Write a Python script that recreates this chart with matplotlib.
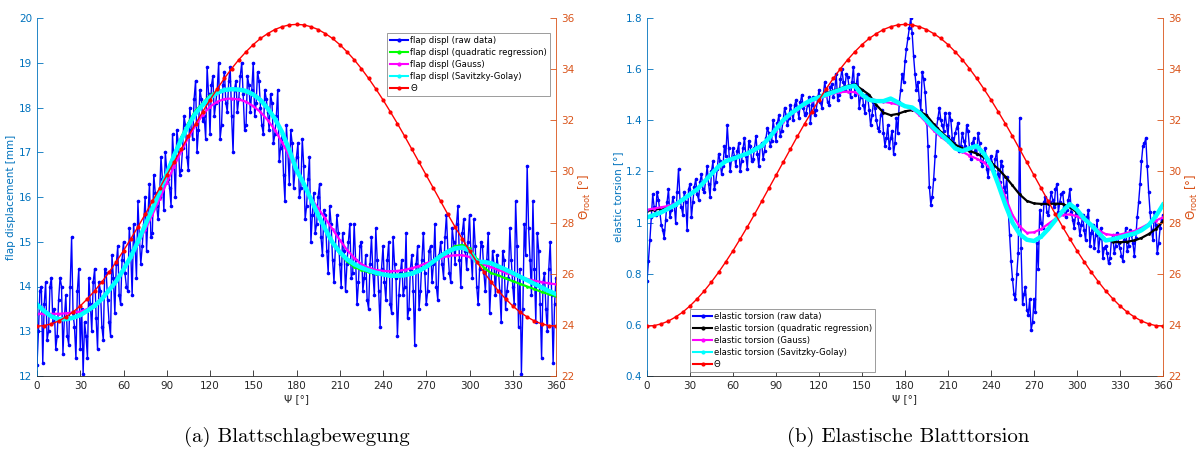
import numpy as np
import matplotlib.pyplot as plt
from matplotlib.ticker import FuncFormatter, MultipleLocator

psi_raw = np.arange(0, 361, 1)
psi_fit = np.arange(0, 361, 5)

# Theta root (right axis), every 5 deg
theta = [23.95, 23.97, 24.04, 24.15, 24.31, 24.50, 24.74, 25.02, 25.33, 25.68,
         26.06, 26.47, 26.90, 27.36, 27.83, 28.32, 28.83, 29.34, 29.85, 30.36,
         30.87, 31.38, 31.87, 32.34, 32.80, 33.23, 33.64, 34.02, 34.37, 34.68,
         34.96, 35.20, 35.39, 35.55, 35.66, 35.73, 35.75, 35.73, 35.66, 35.55,
         35.39, 35.20, 34.96, 34.68, 34.37, 34.02, 33.64, 33.23, 32.80, 32.34,
         31.87, 31.38, 30.87, 30.36, 29.85, 29.34, 28.83, 28.32, 27.83, 27.36,
         26.90, 26.47, 26.06, 25.68, 25.33, 25.02, 24.74, 24.50, 24.31, 24.15,
         24.04, 23.97, 23.95]

# (a) flap displacement [mm], raw at even / odd degrees
flap_raw_even = [12.25, 13.9, 12.3, 14.1, 13.0, 14.2, 13.5, 12.9, 14.2, 12.5,
                 13.8, 12.7, 15.1, 13.1, 13.9, 12.6, 12.05, 12.9, 14.2, 13.0,
                 14.4, 12.6, 13.9, 12.8, 14.3, 13.2, 14.7, 13.4, 14.9, 13.6,
                 15.0, 14.0, 15.3, 13.8, 14.9, 15.9, 14.5, 15.4, 14.8, 16.3,
                 15.2, 16.1, 15.5, 16.9, 15.7, 16.6, 16.2, 17.4, 16.0, 17.2,
                 16.6, 17.8, 16.9, 18.0, 17.3, 18.6, 17.5, 18.2, 17.8, 18.9,
                 17.4, 18.7, 18.1, 19.0, 17.6, 18.8, 17.9, 18.9, 17.0, 18.6,
                 18.2, 19.0, 17.5, 18.7, 17.9, 19.0, 18.1, 18.6, 17.6, 18.4,
                 17.9, 18.3, 17.2, 17.8, 16.8, 17.4, 15.9, 17.0, 17.5, 16.2,
                 16.9, 16.0, 17.3, 15.5, 16.4, 15.0, 16.1, 15.4, 16.3, 14.7,
                 15.6, 14.3, 15.4, 14.1, 15.6, 14.5, 15.2, 13.9, 15.0, 14.2,
                 15.4, 13.6, 14.9, 13.9, 14.7, 13.5, 15.1, 13.8, 14.6, 13.1,
                 14.9, 13.7, 15.0, 13.4, 14.5, 12.9, 14.3, 13.8, 15.2, 13.5,
                 14.7, 12.7, 14.9, 13.9, 15.2, 13.6, 14.8, 14.1, 15.4, 13.7,
                 15.0, 14.2, 15.6, 14.3, 15.3, 14.5, 15.8, 14.0, 15.5, 14.4,
                 15.6, 14.2, 14.9, 13.6, 15.0, 14.3, 14.6, 13.4, 14.8, 13.8,
                 14.4, 13.2, 14.6, 13.9, 15.3, 14.0, 15.9, 13.1, 12.05, 15.4,
                 16.7, 14.6, 15.9, 13.2, 14.8, 12.4, 14.3, 13.0, 15.0, 12.3,
                 14.2]
flap_raw_odd = [13.0, 14.0, 13.6, 12.8, 14.0, 13.2, 12.6, 13.7, 14.0, 13.3,
                12.9, 14.0, 13.4, 12.4, 14.4, 13.5, 13.2, 12.4, 13.6, 14.1,
                13.3, 14.1, 13.1, 14.4, 13.7, 12.9, 14.2, 14.5, 13.8, 14.6,
                14.3, 13.9, 14.8, 15.4, 14.2, 15.1, 14.9, 16.0, 15.6, 15.1,
                16.5, 15.8, 16.0, 16.4, 17.0, 16.4, 15.8, 16.8, 17.5, 16.5,
                17.1, 17.6, 16.6, 17.5, 18.2, 17.0, 18.4, 17.7, 17.3, 18.3,
                18.5, 17.8, 18.4, 17.3, 18.5, 18.1, 18.6, 17.8, 18.4, 17.9,
                18.7, 18.3, 17.6, 18.5, 18.4, 17.8, 18.8, 18.0, 17.4, 18.2,
                17.5, 18.1, 17.4, 18.4, 17.1, 16.5, 17.6, 16.3, 17.2, 16.6,
                17.2, 16.2, 16.7, 15.8, 16.9, 15.6, 15.2, 16.0, 15.1, 15.7,
                14.8, 15.8, 14.6, 14.9, 15.2, 14.0, 14.8, 14.5, 15.4, 14.3,
                14.6, 14.1, 15.0, 14.2, 13.7, 14.5, 14.3, 15.3, 13.9, 14.4,
                14.1, 14.6, 13.6, 15.1, 14.2, 13.8, 14.6, 14.0, 13.3, 14.4,
                13.9, 14.5, 13.5, 14.6, 14.3, 13.9, 14.9, 14.5, 14.0, 14.7,
                14.5, 15.1, 14.8, 14.1, 15.0, 15.4, 14.6, 15.2, 14.8, 15.0,
                14.7, 15.5, 14.0, 14.4, 14.9, 13.9, 15.2, 14.1, 14.5, 14.7,
                13.9, 14.8, 13.5, 14.2, 14.6, 13.6, 14.9, 14.4, 13.5, 14.7,
                15.3, 13.8, 14.4, 15.2, 13.6, 14.1, 13.5, 14.4, 13.8, 13.6]
flap_quad = [13.58, 13.44, 13.33, 13.27, 13.27, 13.30, 13.36, 13.46, 13.57, 13.72,
             13.92, 14.12, 14.38, 14.66, 15.00, 15.37, 15.74, 16.14, 16.55, 16.96,
             17.33, 17.66, 17.93, 18.10, 18.27, 18.36, 18.40, 18.41, 18.40, 18.35,
             18.28, 18.17, 17.98, 17.75, 17.45, 17.05, 16.60, 16.28, 15.93, 15.58,
             15.26, 14.96, 14.74, 14.56, 14.44, 14.37, 14.32, 14.29, 14.27, 14.26,
             14.26, 14.28, 14.31, 14.37, 14.46, 14.58, 14.70, 14.80, 14.90, 14.93,
             14.85, 14.62, 14.42, 14.30, 14.25, 14.18, 14.12, 14.06, 14.00, 13.94,
             13.88, 13.83, 13.78]
flap_gauss = [13.39, 13.39, 13.39, 13.39, 13.40, 13.42, 13.44, 13.50, 13.60, 13.75,
              13.94, 14.15, 14.40, 14.66, 14.95, 15.27, 15.60, 15.95, 16.32, 16.68,
              17.02, 17.33, 17.60, 17.84, 18.02, 18.13, 18.19, 18.20, 18.18, 18.13,
              18.03, 17.90, 17.72, 17.50, 17.22, 16.92, 16.58, 16.25, 15.98, 15.75,
              15.52, 15.28, 15.04, 14.82, 14.64, 14.50, 14.42, 14.37, 14.35, 14.34,
              14.35, 14.37, 14.41, 14.46, 14.52, 14.58, 14.64, 14.68, 14.70, 14.70,
              14.66, 14.58, 14.50, 14.43, 14.37, 14.31, 14.26, 14.21, 14.17, 14.13,
              14.10, 14.07, 14.05]
flap_sg = [13.60, 13.45, 13.33, 13.27, 13.27, 13.30, 13.36, 13.46, 13.57, 13.72,
           13.92, 14.12, 14.38, 14.66, 15.00, 15.37, 15.73, 16.12, 16.52, 16.92,
           17.28, 17.60, 17.87, 18.06, 18.22, 18.33, 18.39, 18.41, 18.40, 18.37,
           18.29, 18.17, 17.98, 17.75, 17.45, 17.05, 16.60, 16.30, 15.95, 15.60,
           15.28, 14.98, 14.77, 14.61, 14.50, 14.42, 14.36, 14.31, 14.27, 14.24,
           14.24, 14.25, 14.29, 14.35, 14.44, 14.56, 14.68, 14.78, 14.85, 14.87,
           14.80, 14.55, 14.55, 14.52, 14.45, 14.38, 14.30, 14.22, 14.14, 14.06,
           13.98, 13.90, 13.83]

# (b) elastic torsion [deg], raw at even / odd degrees
tors_raw_even = [0.77, 0.93, 1.11, 1.03, 1.09, 0.99, 0.94, 1.08, 1.02, 1.10,
                 1.00, 1.21, 1.06, 1.12, 0.97, 1.15, 1.08, 1.17, 1.09, 1.19,
                 1.12, 1.22, 1.10, 1.24, 1.16, 1.27, 1.19, 1.30, 1.38, 1.20,
                 1.29, 1.22, 1.31, 1.24, 1.33, 1.21, 1.30, 1.25, 1.34, 1.22,
                 1.31, 1.28, 1.37, 1.30, 1.40, 1.32, 1.42, 1.36, 1.45, 1.38,
                 1.46, 1.40, 1.48, 1.41, 1.50, 1.42, 1.46, 1.39, 1.49, 1.44,
                 1.52, 1.45, 1.55, 1.47, 1.53, 1.49, 1.58, 1.50, 1.60, 1.52,
                 1.57, 1.49, 1.61, 1.54, 1.45, 1.52, 1.43, 1.49, 1.38, 1.47,
                 1.40, 1.36, 1.44, 1.30, 1.38, 1.33, 1.27, 1.41, 1.47, 1.58,
                 1.63, 1.72, 1.80, 1.65, 1.52, 1.48, 1.59, 1.51, 1.30, 1.07,
                 1.17, 1.37, 1.45, 1.38, 1.43, 1.34, 1.40, 1.31, 1.37, 1.28,
                 1.35, 1.30, 1.36, 1.25, 1.33, 1.27, 1.31, 1.22, 1.29, 1.18,
                 1.26, 1.20, 1.28, 1.16, 1.22, 1.12, 1.05, 0.85, 0.72, 0.80,
                 1.41, 0.68, 0.75, 0.64, 0.58, 0.70, 0.92, 1.05, 0.98, 1.10,
                 1.03, 1.12, 1.06, 1.15, 1.08, 1.12, 1.02, 1.09, 1.04, 0.98,
                 1.07, 0.95, 1.03, 0.93, 1.05, 0.96, 0.90, 1.01, 0.94, 0.86,
                 0.91, 0.84, 0.93, 0.88, 0.96, 0.90, 0.85, 0.98, 0.91, 0.95,
                 0.87, 1.02, 1.15, 1.30, 1.33, 1.12, 0.97, 1.04, 0.88, 0.98,
                 1.03]
tors_raw_odd = [0.85, 1.02, 1.06, 1.12, 1.04, 0.97, 1.01, 1.13, 1.05, 1.07,
                1.12, 1.09, 1.03, 1.08, 1.13, 1.02, 1.14, 1.11, 1.16, 1.13,
                1.17, 1.15, 1.20, 1.13, 1.21, 1.24, 1.22, 1.26, 1.29, 1.25,
                1.26, 1.28, 1.20, 1.29, 1.26, 1.32, 1.24, 1.29, 1.27, 1.30,
                1.25, 1.33, 1.35, 1.32, 1.36, 1.39, 1.34, 1.40, 1.42, 1.41,
                1.43, 1.46, 1.44, 1.47, 1.45, 1.43, 1.49, 1.46, 1.42, 1.48,
                1.47, 1.50, 1.51, 1.46, 1.54, 1.52, 1.48, 1.56, 1.55, 1.58,
                1.53, 1.55, 1.50, 1.58, 1.49, 1.46, 1.50, 1.44, 1.42, 1.45,
                1.37, 1.42, 1.35, 1.33, 1.29, 1.36, 1.31, 1.35, 1.52, 1.55,
                1.68, 1.76, 1.74, 1.58, 1.55, 1.44, 1.56, 1.42, 1.14, 1.10,
                1.26, 1.41, 1.40, 1.36, 1.38, 1.43, 1.33, 1.35, 1.39, 1.30,
                1.32, 1.38, 1.29, 1.31, 1.28, 1.35, 1.24, 1.26, 1.21, 1.24,
                1.23, 1.25, 1.19, 1.24, 1.14, 1.18, 0.95, 0.78, 0.70, 0.88,
                0.90, 0.72, 0.66, 0.70, 0.61, 0.65, 0.82, 1.00, 1.08, 1.04,
                1.08, 1.09, 1.13, 1.04, 1.11, 1.06, 1.05, 1.13, 1.01, 1.03,
                1.00, 0.99, 0.97, 1.02, 0.91, 0.99, 0.95, 0.89, 0.98, 0.90,
                0.88, 0.86, 0.95, 0.91, 0.92, 0.87, 0.93, 0.89, 0.97, 0.92,
                0.94, 1.08, 1.24, 1.31, 1.22, 1.04, 0.93, 0.99, 0.92, 1.01]
tors_quad = [1.045, 1.05, 1.055, 1.06, 1.07, 1.09, 1.11, 1.13, 1.16, 1.19,
             1.22, 1.24, 1.25, 1.26, 1.27, 1.285, 1.30, 1.33, 1.365, 1.40,
             1.425, 1.445, 1.465, 1.48, 1.495, 1.505, 1.515, 1.525, 1.535, 1.54,
             1.52, 1.50, 1.46, 1.43, 1.42, 1.425, 1.435, 1.44, 1.435, 1.42,
             1.385, 1.355, 1.33, 1.305, 1.29, 1.28, 1.27, 1.255, 1.235, 1.21,
             1.18, 1.145, 1.11, 1.085, 1.075, 1.073, 1.073, 1.074, 1.073, 1.06,
             1.04, 1.02, 0.99, 0.955, 0.935, 0.925, 0.923, 0.925, 0.93, 0.94,
             0.955, 0.975, 1.005]
tors_gauss = [1.05, 1.055, 1.06, 1.065, 1.075, 1.09, 1.11, 1.13, 1.16, 1.19,
              1.22, 1.24, 1.25, 1.26, 1.27, 1.285, 1.30, 1.33, 1.36, 1.395,
              1.42, 1.44, 1.46, 1.475, 1.485, 1.495, 1.505, 1.51, 1.512, 1.51,
              1.495, 1.485, 1.478, 1.472, 1.468, 1.462, 1.455, 1.445, 1.42, 1.39,
              1.36, 1.335, 1.315, 1.295, 1.277, 1.262, 1.25, 1.235, 1.21, 1.17,
              1.10, 1.03, 0.985, 0.96, 0.962, 0.975, 0.995, 1.015, 1.03, 1.032,
              1.025, 1.01, 0.99, 0.97, 0.955, 0.951, 0.953, 0.96, 0.967, 0.98,
              0.995, 1.008, 1.02]
tors_sg = [1.02, 1.03, 1.04, 1.055, 1.07, 1.09, 1.11, 1.13, 1.16, 1.19,
           1.22, 1.24, 1.25, 1.26, 1.27, 1.285, 1.30, 1.33, 1.365, 1.40,
           1.425, 1.445, 1.465, 1.48, 1.49, 1.50, 1.51, 1.52, 1.53, 1.535,
           1.50, 1.48, 1.475, 1.475, 1.485, 1.47, 1.455, 1.45, 1.43, 1.40,
           1.37, 1.345, 1.32, 1.29, 1.28, 1.29, 1.30, 1.27, 1.225, 1.15,
           1.07, 1.00, 0.955, 0.933, 0.928, 0.945, 0.975, 1.01, 1.045, 1.072,
           1.05, 1.015, 0.99, 0.96, 0.93, 0.935, 0.942, 0.95, 0.957, 0.97,
           0.99, 1.025, 1.07]

BLUE_AX = '#0072BD'
ORANGE_AX = '#D95319'
GRAY = '#262626'
FS = 7.5

fig = plt.figure(figsize=(11.98, 4.51), dpi=100)
fmt = FuncFormatter(lambda v, p: f'{v:g}')


def merge(even, odd):
    out = np.empty(len(even) + len(odd))
    out[0::2] = even
    out[1::2] = odd
    return out


def panel(rect, raw, quad, gauss, sg, quad_color, ylim, ystep, ylabel, stem,
          leg_loc, leg_anchor, caption, cap_x):
    ax = fig.add_axes(rect)
    ax2 = ax.twinx()

    l1, = ax.plot(psi_raw, raw, '.-', color=(0, 0, 1), lw=1, ms=3.2)
    l2, = ax.plot(psi_fit, quad, '.-', color=quad_color, lw=1.6, ms=2)
    l3, = ax.plot(psi_fit, gauss, '.-', color=(1, 0, 1), lw=1.6, ms=2)
    l4, = ax.plot(psi_fit, sg, '.-', color=(0, 1, 1), lw=3.2, ms=2)
    l5, = ax2.plot(psi_fit, theta, '.-', color=(1, 0, 0), lw=1, ms=4)

    ax.set_xlim(0, 360)
    ax.set_ylim(*ylim)
    ax2.set_ylim(22, 36)
    ax.xaxis.set_major_locator(MultipleLocator(30))
    ax.yaxis.set_major_locator(MultipleLocator(ystep))
    ax.yaxis.set_major_formatter(fmt)
    ax2.yaxis.set_major_locator(MultipleLocator(2))

    for a in (ax, ax2):
        a.spines['top'].set_visible(False)
        a.tick_params(direction='in', length=4, width=0.6, labelsize=FS)
    ax.spines['right'].set_visible(False)
    ax2.spines['left'].set_visible(False)
    ax2.spines['bottom'].set_visible(False)
    ax.spines['bottom'].set_color(GRAY)
    ax.spines['bottom'].set_linewidth(0.6)
    ax.spines['left'].set_color(BLUE_AX)
    ax.spines['left'].set_linewidth(0.6)
    ax2.spines['right'].set_color(ORANGE_AX)
    ax2.spines['right'].set_linewidth(0.6)
    ax.tick_params(axis='x', colors=GRAY)
    ax.tick_params(axis='y', colors=BLUE_AX)
    ax2.tick_params(axis='y', colors=ORANGE_AX)

    ax.set_xlabel('Ψ [°]', fontsize=FS, color=GRAY, labelpad=2)
    ax.set_ylabel(ylabel, fontsize=FS, color=BLUE_AX, labelpad=2)
    ax2.set_ylabel('$\\Theta_{\\mathrm{root}}$ [°]', fontsize=FS + 1,
                   color=ORANGE_AX, labelpad=2)

    labels = [stem + ' (raw data)', stem + ' (quadratic regression)',
              stem + ' (Gauss)', stem + ' (Savitzky-Golay)', 'Θ']
    leg = ax2.legend([l1, l2, l3, l4, l5], labels, loc=leg_loc,
                     bbox_to_anchor=leg_anchor, fontsize=6.1, frameon=True,
                     fancybox=False, framealpha=1, edgecolor='#8c8c8c',
                     handlelength=2.2, handletextpad=0.2, borderpad=0.35,
                     labelspacing=0.35, borderaxespad=0)
    leg.get_frame().set_linewidth(0.6)
    for h in leg.legend_handles:
        h.set_linewidth(1.5)
        h.set_markersize(4)

    fig.text(cap_x, 0.031, caption, ha='center', va='center',
             fontsize=15, family='cmr10')


panel([37 / 1198, 75 / 451, 519 / 1198, 358 / 451],
      merge(flap_raw_even, flap_raw_odd), flap_quad, flap_gauss, flap_sg,
      (0, 1, 0), (12, 20), 1, 'flap displacement [mm]', 'flap displ',
      'upper right', (0.988, 0.958), '(a) Blattschlagbewegung', 0.248)
panel([647 / 1198, 75 / 451, 516 / 1198, 358 / 451],
      merge(tors_raw_even, tors_raw_odd), tors_quad, tors_gauss, tors_sg,
      (0, 0, 0), (0.4, 1.8), 0.2, 'elastic torsion [°]', 'elastic torsion',
      'lower left', (0.084, 0.011), '(b) Elastische Blatttorsion', 0.758)

fig.savefig('out.png', dpi=100)
